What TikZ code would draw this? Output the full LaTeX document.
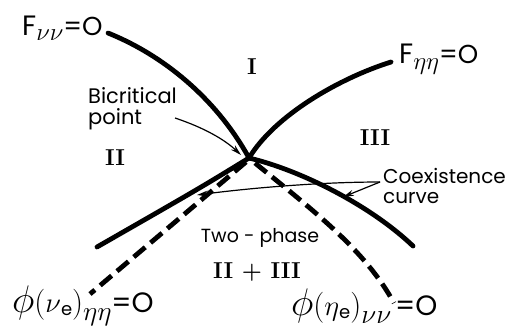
\documentclass[tikz,border=0pt]{standalone}
\usepackage{graphicx}
\usepackage{fontspec}
\newfontfamily\lbl{Poppins}
\usetikzlibrary{arrows.meta}
\newcommand\fs[1]{\fontsize{#1}{#1}\selectfont}
\newcommand\dn[2]{\lower#1\hbox{#2}}
\newcommand\mth[2]{\scalebox{#1}{\fs{24bp}$#2$}}
\tikzset{
  thick curve/.style={line width=4.8bp, line cap=round},
  dash curve/.style={line width=4.8bp, dash pattern=on 15bp off 7bp},
  thin arrow/.style={line width=1.2bp, -{Stealth[length=11bp,width=6bp]}},
  lab/.style={inner sep=0pt, font=\lbl\fs{21bp}},
  roman/.style={inner sep=0pt, font=\rmfamily\bfseries\fs{23bp}},
}
\begin{document}
\begin{tikzpicture}[x=1bp,y=-1bp]
\useasboundingbox (0,0) rectangle (512,331);
% key points
\coordinate (bc) at (249,158);
\coordinate (fnnEnd) at (108,33);
\coordinate (fhhEnd) at (391,62);
\coordinate (coL) at (97,247);
\coordinate (coR) at (413,246);
\coordinate (dL0) at (246,162);
\coordinate (dL1) at (90,294);
\coordinate (dR0) at (255,163);
\coordinate (dR1) at (394,303);
\coordinate (bicS) at (175,118);
\coordinate (bicT) at (241,155);
\coordinate (cs) at (380,182);
\coordinate (ctL) at (197,195);
\coordinate (ctR) at (343,197);
% curves
\draw[thick curve] (fnnEnd) .. controls (170,58) and (220,105) .. (bc);
\draw[thick curve] (fhhEnd) .. controls (340,78) and (275,115) .. (bc);
\draw[thick curve] (bc) .. controls (200,188) .. (coL);
\draw[thick curve] (bc) .. controls (300,170) and (370,205) .. (coR);
\draw[dash curve] (dL0) -- (dL1);
\draw[dash curve] (dR0) .. controls (315,212) and (365,250) .. (dR1);
% labels
\node[lab, anchor=base west] (Fnn) at (22,35)
  {\fs{28bp}F\dn{5bp}{\fs{23bp}$\nu\nu$}\fs{26bp}=O};
\node[lab, anchor=base west] (Fhh) at (399,63)
  {\fs{28bp}F\dn{6bp}{\fs{23bp}$\eta\eta$}\fs{26bp}=O};
\node[roman] (I) at (252,67) {I};
\node[roman] (II) at (115,158) {II};
\node[roman] (III) at (375,138) {III};
\node[lab, align=left, anchor=north west] (bic) at (88,87) {Bicritical\\point};
\node[lab, font=\lbl\fs{20bp}, align=left, anchor=north west] (coex) at (383,168) {Coexistence\\curve};
\node[lab, font=\lbl\fs{19bp}] (two) at (260,238) {Two - phase};
\node[roman] (twoph) at (257,272) {II + III};
\node[lab, anchor=base west] (phiL) at (12,312)
  {\mth{1.55}{\phi}\mth{1.25}{(}\mth{1.15}{\nu}\dn{3bp}{\fs{18bp}e}\mth{1.25}{)}\dn{8bp}{\mth{1.1}{\eta\eta}}\fs{28bp}=O};
\node[lab, anchor=base west] (phiR) at (291,315)
  {\mth{1.55}{\phi}\mth{1.25}{(}\mth{1.15}{\eta}\dn{3bp}{\fs{18bp}e}\mth{1.25}{)}\dn{8bp}{\mth{1.1}{\nu\nu}}\hspace{4bp}\fs{28bp}=O};
% arrows
\draw[thin arrow] (bicS) .. controls (205,128) and (225,140) .. (bicT);
\draw[thin arrow] (cs) .. controls (320,182) and (250,188) .. (ctL);
\draw[thin arrow] (cs) -- (ctR);
\end{tikzpicture}
\end{document}
